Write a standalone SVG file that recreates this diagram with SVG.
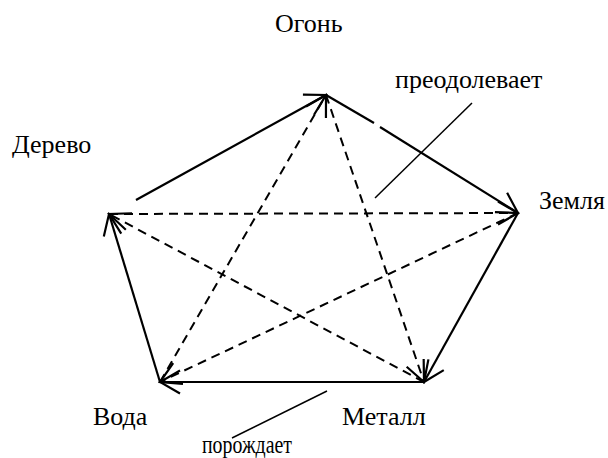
<svg xmlns="http://www.w3.org/2000/svg" width="608" height="458" viewBox="0 0 608 458">
<style>
.lbl{font-family:"Liberation Serif","Times New Roman",serif;font-size:26px;fill:#000}
.solid{stroke:#000;stroke-width:2.2;fill:none}
.dash{stroke:#000;stroke-width:2;fill:none;stroke-dasharray:9,6}
.lead{stroke:#000;stroke-width:1.5;fill:none}
</style>
<defs>
<marker id="ah" viewBox="-24 -14 26 28" markerWidth="26" markerHeight="28" refX="0" refY="0" orient="auto" markerUnits="userSpaceOnUse">
<path d="M-20,-11.5 L0,0 L-20,11.5" fill="none" stroke="#000" stroke-width="2.2"/>
</marker>
</defs>
<rect width="608" height="458" fill="#fff"/>
<g id="connectors">
<line class="solid" x1="136" y1="200" x2="326" y2="95" marker-end="url(#ah)"/>
<line class="solid" x1="326" y1="95" x2="374" y2="123"/>
<line class="solid" x1="380" y1="127" x2="518" y2="213" marker-end="url(#ah)"/>
<line class="solid" x1="518" y1="213" x2="424" y2="382" marker-end="url(#ah)"/>
<line class="solid" x1="424" y1="382" x2="160" y2="382" marker-end="url(#ah)"/>
<line class="solid" x1="160" y1="382" x2="109" y2="214" marker-end="url(#ah)"/>
<line class="dash" x1="109" y1="214" x2="518" y2="213" marker-end="url(#ah)"/>
<line class="dash" x1="518" y1="213" x2="160" y2="382" marker-end="url(#ah)"/>
<line class="dash" x1="160" y1="382" x2="326" y2="95" marker-end="url(#ah)"/>
<line class="dash" x1="326" y1="95" x2="424" y2="382" marker-end="url(#ah)"/>
<line class="dash" x1="424" y1="382" x2="109" y2="214" marker-end="url(#ah)"/>
<line class="lead" x1="472" y1="103" x2="375" y2="198"/>
<line class="lead" x1="327" y1="391" x2="232" y2="438"/>
</g>
<g id="fire"><text class="lbl" x="275" y="32">Огонь</text></g>
<g id="wood"><text class="lbl" x="12" y="153">Дерево</text></g>
<g id="earth"><text class="lbl" x="539" y="209">Земля</text></g>
<g id="water"><text class="lbl" x="93" y="425">Вода</text></g>
<g id="metal"><text class="lbl" x="342" y="425">Металл</text></g>
<g id="overcomes"><text class="lbl" x="395" y="88">преодолевает</text></g>
<g id="generates"><text class="lbl" x="202" y="453" textLength="90" lengthAdjust="spacingAndGlyphs">порождает</text></g>
</svg>
